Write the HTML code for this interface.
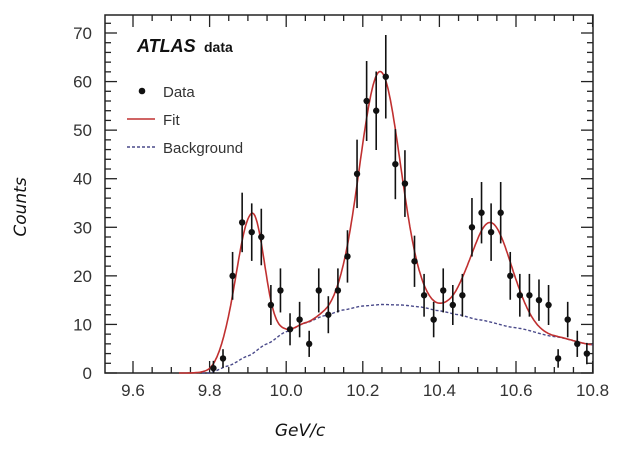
<!DOCTYPE html>
<html><head><meta charset="utf-8"><style>
html,body{margin:0;padding:0;background:#fff;}
svg{display:block;font-family:"Liberation Sans",sans-serif;}
</style></head><body>
<svg id="s" width="624" height="456" xmlns="http://www.w3.org/2000/svg">
<rect x="105" y="15" width="488" height="358" fill="none" stroke="#222" stroke-width="1.5"/>
<g id="ticks" stroke="#222" stroke-width="1.3"></g>
<g id="lbl" fill="#333" font-size="17"></g>
<text x="137" y="52" font-size="18" font-weight="bold" font-style="italic" fill="#111">ATLAS</text>
<text x="204" y="52" font-size="14" font-weight="bold" fill="#111">data</text>
<circle cx="142" cy="91" r="3.3" fill="#111"/>
<text x="163" y="97" font-size="15" fill="#333">Data</text>
<line x1="127" y1="119" x2="155" y2="119" stroke="#c03030" stroke-width="1.6"/>
<text x="163" y="125" font-size="15" fill="#333">Fit</text>
<line x1="127" y1="147" x2="155" y2="147" stroke="#4a4a8a" stroke-width="1.4" stroke-dasharray="3,2"/>
<text x="163" y="153" font-size="15" fill="#333">Background</text>
<text transform="translate(26,207) rotate(-90)" text-anchor="middle" font-size="17" font-style="italic" fill="#111" font-family="'DejaVu Sans',sans-serif">Counts</text>
<text x="300" y="436" text-anchor="middle" font-size="17" font-style="italic" fill="#111" font-family="'DejaVu Sans',sans-serif">GeV/c</text>
<g id="plot"></g>
</svg>
<script>
var NS="http://www.w3.org/2000/svg";
function X(v){return 133+(v-9.6)*383;}
function Y(c){return 373-c*340/70;}
function el(t,a,p){var e=document.createElementNS(NS,t);for(var k in a)e.setAttribute(k,a[k]);p.appendChild(e);return e;}
var tk=document.getElementById('ticks'),lb=document.getElementById('lbl'),pl=document.getElementById('plot');
for(var c=0;c<=72;c+=2){var y=Y(c);if(y<15)continue;var L=(c%10==0)?12:6;
el('line',{x1:105,y1:y,x2:105+L,y2:y},tk);el('line',{x1:593,y1:y,x2:593-L,y2:y},tk);
if(c%10==0){var t=el('text',{x:92,y:y+6,'text-anchor':'end'},lb);t.textContent=c;}}
for(var i=0;i<=24;i++){var v=9.6+i*0.05;var x=X(v);if(x>593)break;var L=(i%4==0)?12:6;
el('line',{x1:x,y1:373,x2:x,y2:373-L},tk);el('line',{x1:x,y1:15,x2:x,y2:15+L},tk);
if(i%4==0){var t=el('text',{x:x,y:396,'text-anchor':'middle'},lb);t.textContent=v.toFixed(1);}}
var bp=[[9.8,0],[9.85,1.5],[9.9,3.5],[9.95,6],[10.0,8.5],[10.05,10.3],[10.1,11.8],[10.15,13],[10.2,13.8],[10.25,14.1],[10.3,14],[10.35,13.6],[10.4,12.8],[10.45,12],[10.5,11],[10.6,9.3],[10.7,7.5],[10.8,5.8]];
function bg(v){if(v<=9.8)return 0;for(var i=0;i<bp.length-1;i++){if(v<=bp[i+1][0]){var a=bp[i],b=bp[i+1];var t=(v-a[0])/(b[0]-a[0]);t=t*t*(3-2*t)*0.5+t*0.5;return a[1]+(b[1]-a[1])*t;}}return 5.8;}
function g(v,m,s){return Math.exp(-(v-m)*(v-m)/(2*s*s));}
function fit(v){return bg(v)+29*g(v,9.91,v<9.91?0.042:0.032)+48*g(v,10.245,0.053)+20.5*g(v,10.535,0.054);}
var pb="",pf="";
for(var v=9.78;v<=10.8;v+=0.004){pb+=(pb?"L":"M")+X(v).toFixed(1)+","+Y(bg(v)).toFixed(1);}
for(var v=9.72;v<=10.8;v+=0.003){pf+=(pf?"L":"M")+X(v).toFixed(1)+","+Y(fit(v)).toFixed(1);}
el('path',{d:pb,fill:'none',stroke:'#4a4a8a','stroke-width':1.4,'stroke-dasharray':'3,2'},pl);
el('path',{d:pf,fill:'none',stroke:'#c03030','stroke-width':1.6},pl);
var d=[1,3,20,31,29,28,14,17,9,11,6,17,12,17,24,41,56,54,61,43,39,23,16,11,17,14,16,30,33,29,33,20,16,16,15,14,3,11,6,4];
for(var i=0;i<d.length;i++){var v=9.81+i*0.025,x=X(v),n=d[i],e=Math.max(1.5,Math.sqrt(n)*1.1);
el('line',{x1:x,y1:Math.max(Y(n+e),15),x2:x,y2:Math.min(Y(n-e),373),stroke:'#111','stroke-width':1.6},pl);
el('circle',{cx:x,cy:Y(n),r:3.2,fill:'#111'},pl);}
</script>
</body></html>
